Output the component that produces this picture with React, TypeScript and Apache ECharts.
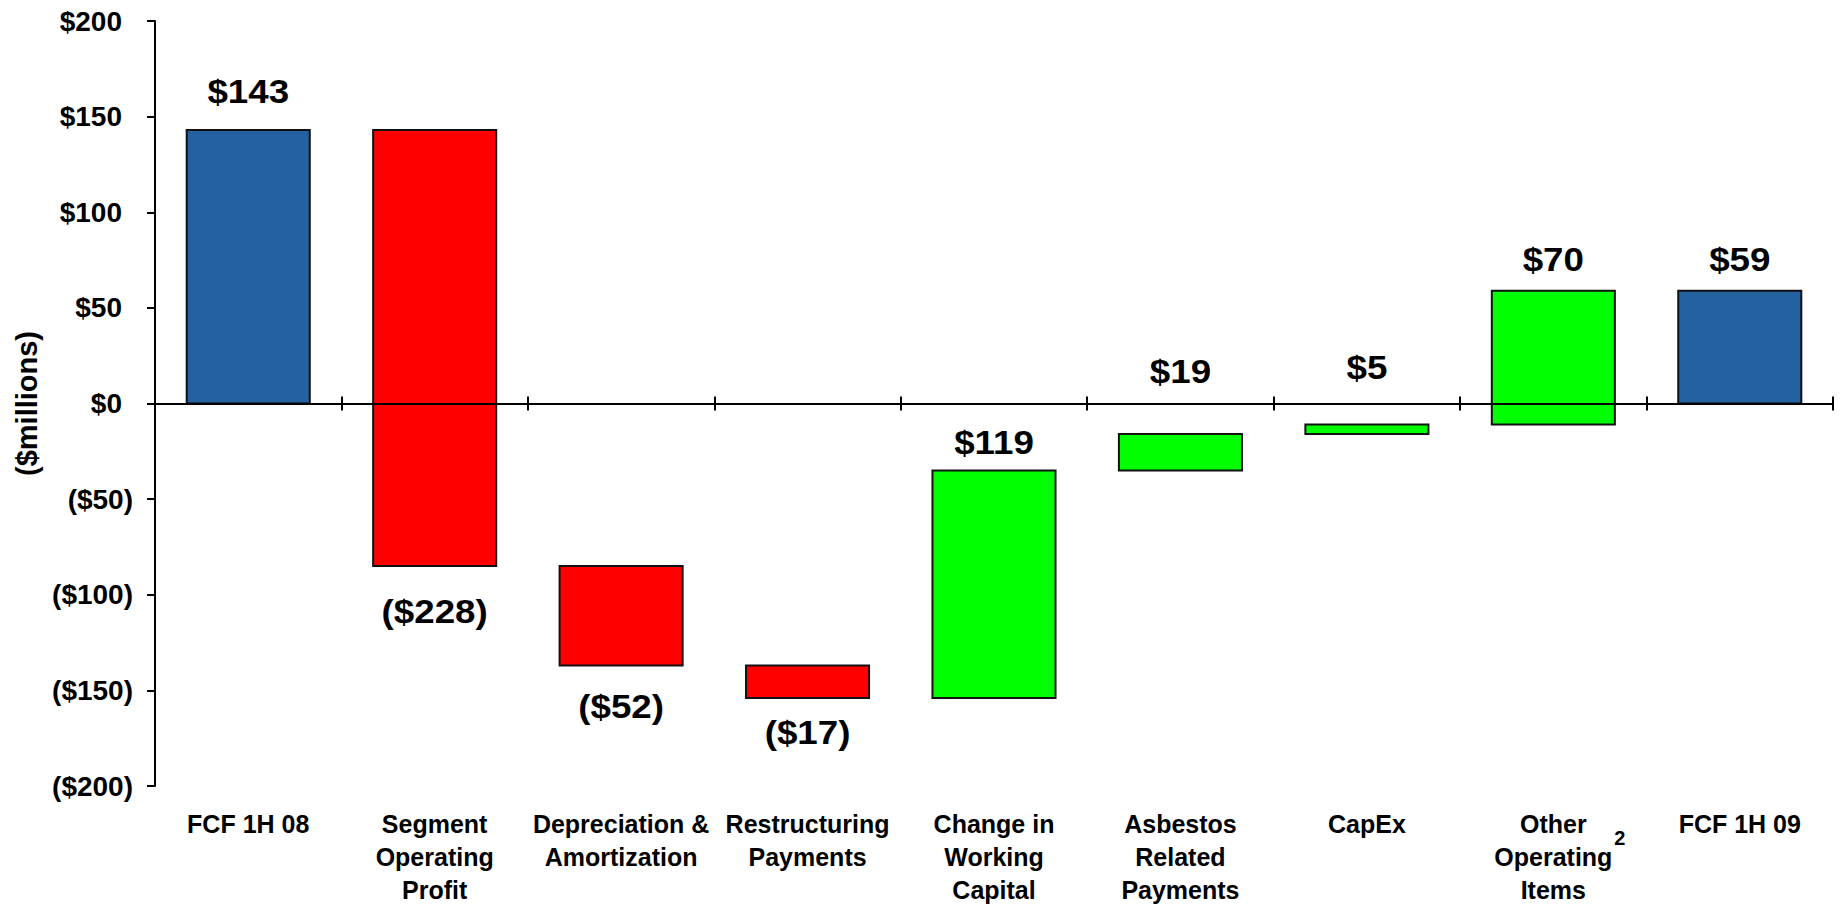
import React, { useEffect, useRef } from "react";
import * as echarts from "echarts";

// ---------- data ----------
const categories = [
  "FCF 1H 08",
  "Segment\nOperating\nProfit",
  "Depreciation &\nAmortization",
  "Restructuring\nPayments",
  "Change in\nWorking\nCapital",
  "Asbestos\nRelated\nPayments",
  "CapEx",
  "Other\nOperating\nItems",
  "FCF 1H 09",
];
const values = [143, -228, -52, -17, 119, 19, 5, 70, 59];
const isTotal = [true, false, false, false, false, false, false, false, true];
const yMin = -200;
const yMax = 200;
const yInterval = 50;
const yAxisTitle = "($millions)";
const footnoteIndex = 7;
const footnoteMark = "2";

// ---------- styling ----------
const FONT = '"Liberation Sans", Arial, Helvetica, sans-serif';
const COLOR_TOTAL = "#2361a0";
const COLOR_NEG = "#ff0000";
const COLOR_POS = "#00ff00";
// distance (px) from bar edge to label centre, per bar
const labelGap = [39, 45, 40, 34, 28, 63, 58, 32, 32];

const fmtMoney = (v: number) => (v < 0 ? `($${-v})` : `$${v}`);

export default function App() {
  const ref = useRef<HTMLDivElement>(null);

  useEffect(() => {
    if (!ref.current) return;
    const chart = echarts.init(ref.current, undefined, { renderer: "svg" });

    // waterfall ranges from the values
    let running = 0;
    const seriesData = values.map((v, i) => {
      if (isTotal[i]) {
        running = v;
        return [i, 0, v];
      }
      const start = running;
      running += v;
      return [i, start, running];
    });

    const renderItem = (params: any, api: any) => {
      const i = api.value(0);
      const lo = api.value(1);
      const hi = api.value(2);
      const a = api.coord([i, lo]);
      const b = api.coord([i, hi]);
      const w = api.size([1, 0])[0] * 0.66;
      const top = Math.min(a[1], b[1]);
      const bottom = Math.max(a[1], b[1]);
      const v = values[i];
      const fill = isTotal[i] ? COLOR_TOTAL : v < 0 ? COLOR_NEG : COLOR_POS;
      const ly = v >= 0 ? top - labelGap[i] : bottom + labelGap[i];
      return {
        type: "group",
        children: [
          {
            type: "rect",
            shape: { x: a[0] - w / 2, y: top, width: w, height: bottom - top },
            style: { fill, stroke: "#111", lineWidth: 2 },
          },
          {
            type: "text",
            x: a[0],
            y: ly,
            scaleX: 1.08,
            style: {
              text: fmtMoney(v),
              fill: "#000",
              font: `bold 34px ${FONT}`,
              align: "center",
              verticalAlign: "middle",
              textAlign: "center",
              textVerticalAlign: "middle",
            },
          },
        ],
      };
    };

    const axisLineStyle = { color: "#000", width: 2 };

    chart.setOption({
      animation: false,
      backgroundColor: "#fff",
      grid: { left: 155, right: 8, top: 21, bottom: 118, containLabel: false },
      xAxis: [
        {
          type: "category",
          data: categories,
          position: "bottom",
          z: 10,
          axisLine: { show: true, onZero: true, onZeroAxisIndex: 0, lineStyle: axisLineStyle },
          axisTick: { show: true, length: 7, lineStyle: axisLineStyle },
          axisLabel: { show: false },
          splitLine: { show: false },
        },
        {
          type: "category",
          data: categories,
          position: "top",
          z: 10,
          axisLine: { show: true, onZero: true, onZeroAxisIndex: 0, lineStyle: axisLineStyle },
          axisTick: { show: true, length: 7, lineStyle: axisLineStyle },
          axisLabel: { show: false },
          splitLine: { show: false },
        },
        {
          type: "category",
          data: categories,
          position: "bottom",
          axisLine: { show: false, onZero: false },
          axisTick: { show: false },
          axisLabel: {
            show: true,
            interval: 0,
            margin: 21,
            fontSize: 25,
            lineHeight: 33,
            fontWeight: "bold",
            fontFamily: FONT,
            color: "#000",
          },
          splitLine: { show: false },
        },
      ],
      yAxis: {
        type: "value",
        min: yMin,
        max: yMax,
        interval: yInterval,
        position: "left",
        axisLine: { show: true, onZero: false, lineStyle: axisLineStyle },
        axisTick: { show: true, length: 8, lineStyle: axisLineStyle },
        splitLine: { show: false },
        axisLabel: {
          margin: 22,
          formatter: (v: number) => (v < 0 ? `{n|${fmtMoney(v)}}` : `{p|${fmtMoney(v)}}`),
          rich: {
            p: {
              fontSize: 28,
              fontWeight: "bold",
              fontFamily: FONT,
              color: "#000",
              padding: [0, 11, 0, 0],
            },
            n: { fontSize: 28, fontWeight: "bold", fontFamily: FONT, color: "#000" },
          },
        },
        name: yAxisTitle,
        nameLocation: "middle",
        nameRotate: 90,
        nameGap: 110,
        nameTextStyle: { fontSize: 29, fontWeight: "bold", fontFamily: FONT, color: "#000" },
      },
      series: [
        {
          type: "custom",
          xAxisIndex: 0,
          yAxisIndex: 0,
          renderItem,
          encode: { x: 0, y: [1, 2] },
          data: seriesData,
          z: 2,
        },
      ],
    });

    // superscript footnote mark next to the category label
    const p = chart.convertToPixel({ gridIndex: 0 }, [footnoteIndex, yMin]) as number[];
    if (p) {
      chart.setOption({
        graphic: [
          {
            type: "text",
            x: p[0] + 61,
            y: p[1] + 52,
            style: {
              text: footnoteMark,
              fill: "#000",
              font: `bold 20px ${FONT}`,
              align: "left",
              verticalAlign: "middle",
              textAlign: "left",
              textVerticalAlign: "middle",
            },
          },
        ],
      });
    }

    return () => chart.dispose();
  }, []);

  return (
    <div
      ref={ref}
      style={{ position: "fixed", left: 0, top: 0, width: 1841, height: 906, background: "#fff" }}
    />
  );
}
